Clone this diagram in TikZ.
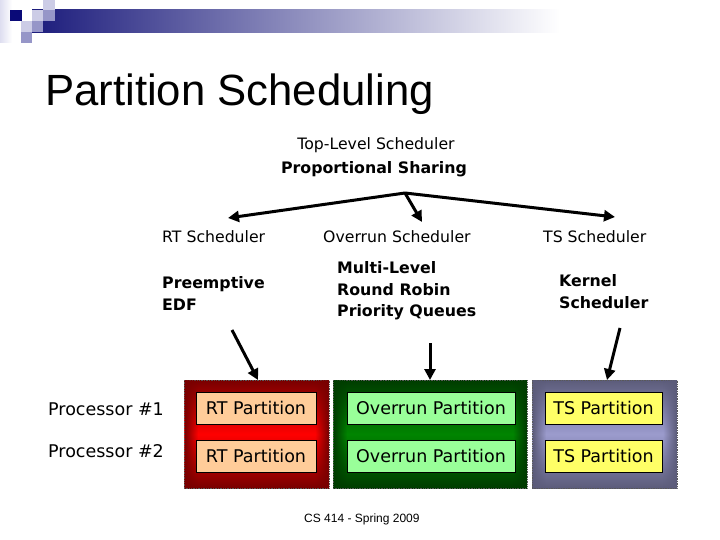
\documentclass[tikz,border=0pt]{standalone}
\usepackage{fontspec}
\setmainfont{DejaVu Sans}
\newfontfamily\arialf{Liberation Sans}
\usetikzlibrary{arrows.meta,fadings}
\definecolor{barnavy}{RGB}{28,28,124}
\definecolor{logonavy}{RGB}{10,10,120}
\definecolor{lavlight}{RGB}{204,204,230}
\definecolor{lavmid}{RGB}{150,150,200}
\definecolor{lavpale}{RGB}{222,222,240}
\definecolor{rdark}{RGB}{120,0,0}
\definecolor{rbright}{RGB}{255,0,0}
\definecolor{gdark}{RGB}{0,60,0}
\definecolor{gbright}{RGB}{0,132,0}
\definecolor{bdark}{RGB}{92,92,122}
\definecolor{bbright}{RGB}{155,155,205}
\definecolor{rtfill}{RGB}{255,204,153}
\definecolor{ovfill}{RGB}{153,255,153}
\definecolor{tsfill}{RGB}{255,255,102}
\begin{document}
\begin{tikzpicture}[x=1pt,y=-1pt,
  lbl/.style={inner sep=0pt, anchor=base west, font=\fontsize{15.7}{19}\selectfont},
  blbl/.style={inner sep=0pt, anchor=north west, align=left, font=\fontsize{15.8}{21.3}\selectfont\bfseries},
  proc/.style={inner sep=0pt, anchor=base west, font=\fontsize{17.5}{20}\selectfont},
  part/.style={draw=black, line width=0.8pt, minimum height=32pt, inner sep=0pt, font=\fontsize{17.5}{20}\selectfont},
  outer/.style={draw=black!65, densely dotted, line width=0.7pt, minimum height=108pt, inner sep=0pt},
  arr/.style={line width=3pt, -{Triangle[length=11pt,width=11pt]}},
]
\useasboundingbox (0,0) rectangle (720,540);
\fill[white] (0,0) rectangle (720,540);

% header bar and logo squares
\shade[left color=barnavy, right color=white] (32,10) rectangle (560,33);
\shade[left color=lavpale, right color=white] (0,0) rectangle (12,43);
\fill[logonavy] (10,10) rectangle (22,21);
\fill[lavlight] (43,0) rectangle (55,10);
\fill[lavlight] (32,10) rectangle (43,21);
\fill[lavmid] (43,10) rectangle (55,21);
\fill[lavlight] (21,21) rectangle (32,32);
\fill[lavmid] (32,21) rectangle (43,32);
\fill[lavmid] (21,32) rectangle (32,43);

% title
\node[inner sep=0pt, anchor=base west, font=\arialf\fontsize{43.7}{50}\selectfont] (title) at (45,106) {Partition Scheduling};

% top scheduler
\node[lbl, anchor=base] (top) at (376,150) {Top-Level Scheduler};
\node[lbl, anchor=base, font=\fontsize{15.8}{19}\selectfont\bfseries] (prop) at (374,174) {Proportional Sharing};

\node[lbl] (rtsch) at (162,243) {RT Scheduler};
\node[lbl] (ovsch) at (323,243) {Overrun Scheduler};
\node[lbl] (tssch) at (543,243) {TS Scheduler};

\node[blbl] (edf) at (162,276.5) {Preemptive\\EDF};
\node[blbl] (mlq) at (337,261.5) {Multi-Level\\Round Robin\\Priority Queues};
\node[blbl] (kern) at (559,274.5) {Kernel\\Scheduler};

% top arrows
\coordinate (apex) at (405,193);
\coordinate (tipL) at (228,218);
\coordinate (tipM) at (422,222);
\coordinate (tipR) at (615,217);
\draw[arr] (apex) -- (tipL);
\draw[arr] (apex) -- (tipM);
\draw[arr] (apex) -- (tipR);

% outer partition boxes
\node[outer, minimum width=145pt, top color=rdark, bottom color=rdark, middle color=rbright] (rtbox) at (256.5,434) {};
\node[outer, minimum width=194pt, top color=gdark, bottom color=gdark, middle color=gbright] (ovbox) at (430,434) {};
\node[outer, minimum width=145pt, top color=bdark, bottom color=bdark, middle color=bbright] (tsbox) at (604.5,434) {};
\fill[rdark, path fading=east] (184.5,380.5) rectangle (198,487.5);
\fill[rdark, path fading=west] (315,380.5) rectangle (328.5,487.5);
\fill[gdark, path fading=east] (333.5,380.5) rectangle (347,487.5);
\fill[gdark, path fading=west] (513,380.5) rectangle (526.5,487.5);
\fill[bdark, path fading=east] (532.5,380.5) rectangle (546,487.5);
\fill[bdark, path fading=west] (663,380.5) rectangle (676.5,487.5);

% inner partition boxes
\node[part, fill=rtfill, minimum width=120pt] (rt1) at (256,408) {RT Partition};
\node[part, fill=rtfill, minimum width=120pt] (rt2) at (256,456) {RT Partition};
\node[part, fill=ovfill, minimum width=168pt] (ov1) at (431,408) {Overrun Partition};
\node[part, fill=ovfill, minimum width=168pt] (ov2) at (431,456) {Overrun Partition};
\node[part, fill=tsfill, minimum width=117pt] (ts1) at (603.5,408) {TS Partition};
\node[part, fill=tsfill, minimum width=117pt] (ts2) at (603.5,456) {TS Partition};

\node[proc] (p1) at (48,415) {Processor \#1};
\node[proc] (p2) at (48,457) {Processor \#2};

% lower arrows
\coordinate (srcL) at (232,330);
\coordinate (srcM) at (430,343);
\coordinate (srcR) at (620,328);
\coordinate (endL) at (258,380);
\coordinate (endM) at (430,380);
\coordinate (endR) at (607,380);
\draw[arr] (srcL) -- (endL);
\draw[arr] (srcM) -- (endM);
\draw[arr] (srcR) -- (endR);

% footer
\node[inner sep=0pt, anchor=base west, font=\arialf\fontsize{12}{14}\selectfont] (foot) at (304,522.5) {CS 414 - Spring 2009};
\end{tikzpicture}
\end{document}
